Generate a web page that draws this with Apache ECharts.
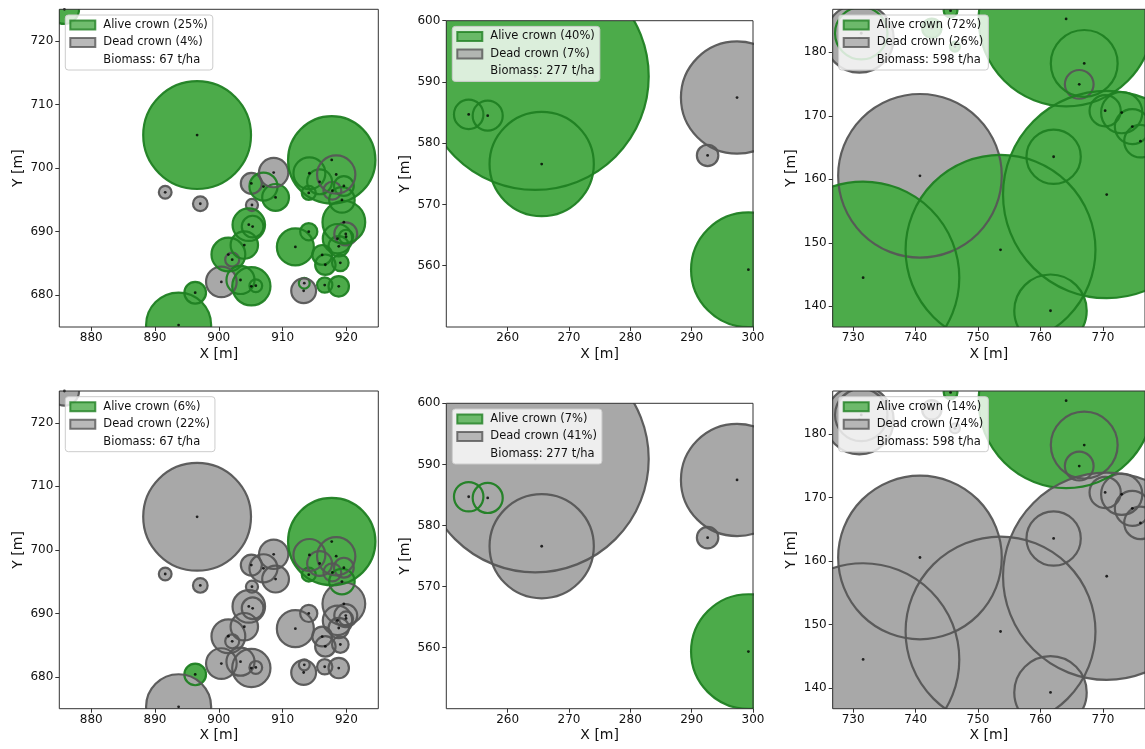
<!DOCTYPE html>
<html><head><meta charset="utf-8">
<script src="https://cdn.jsdelivr.net/npm/echarts@6/dist/echarts.min.js"></script>
<style>html,body{margin:0;padding:0;background:#fff}#c{width:1145px;height:749px}</style>
</head><body><div id="c"></div>
<script>
// ---------- Plot A (panels 1 & 4) ----------
const setA_x = [875.8, 896.6, 917.7, 893.7, 896.3, 891.6, 897.1, 905.1, 908.6, 907.0, 908.9, 905.2, 904.7, 905.3, 904.0, 901.5, 902.1, 900.4, 903.4, 905.1, 905.8, 912.0, 914.1, 916.2, 916.7, 919.05, 916.6, 918.8, 913.3, 913.4, 919.6, 918.6, 918.8, 919.9, 919.95, 919.3, 919.6, 918.4, 917.8, 914.2, 915.8, 914.1];
const setA_y = [725.0, 705.2, 701.3, 675.3, 680.4, 696.2, 694.4, 697.6, 699.3, 697.1, 695.4, 694.2, 691.1, 690.8, 687.9, 686.4, 685.6, 682.1, 682.4, 681.4, 681.5, 687.6, 690.0, 686.35, 684.8, 685.1, 681.6, 681.4, 680.7, 681.9, 691.5, 688.9, 687.7, 689.65, 689.2, 695.0, 697.2, 699.0, 696.45, 699.2, 697.85, 696.1];
const setA_r = [2.3, 8.45, 6.85, 5.1, 1.7, 1.0, 1.15, 1.65, 2.3, 2.2, 2.1, 0.95, 2.55, 1.7, 2.15, 2.65, 1.1, 2.4, 2.2, 3.0, 1.0, 2.9, 1.35, 1.55, 1.6, 1.3, 1.2, 1.6, 1.95, 0.85, 3.35, 2.3, 1.6, 1.8, 1.1, 2.0, 1.55, 3.0, 1.4, 2.5, 1.95, 1.1];
const panel1_alive = [1, 1, 1, 1, 1, 0, 0, 0, 0, 1, 1, 0, 1, 1, 1, 1, 0, 0, 1, 1, 1, 1, 1, 1, 1, 1, 1, 1, 0, 1, 1, 1, 1, 0, 1, 1, 1, 0, 0, 1, 1, 1];
const panel4_alive = [0, 0, 1, 0, 1, 0, 0, 0, 0, 0, 0, 0, 0, 0, 0, 0, 0, 0, 0, 0, 0, 0, 0, 0, 0, 0, 0, 0, 0, 0, 0, 0, 0, 0, 0, 1, 0, 0, 0, 0, 0, 1];
const setA_xrange = [875, 925];
const setA_yrange = [675, 725];
const setA_xticks = [880, 890, 900, 910, 920];
const setA_yticks = [680, 690, 700, 710, 720];

// ---------- Plot B (panels 2 & 5) ----------
const setB_x = [264.5, 253.65, 256.75, 265.55, 297.4, 292.6, 299.25];
const setB_y = [590.9, 584.7, 584.5, 576.6, 587.45, 578.0, 559.35];
const setB_r = [18.5, 2.4, 2.45, 8.5, 9.15, 1.75, 9.35];
const panel2_alive = [1, 1, 1, 1, 0, 0, 1];
const panel5_alive = [0, 1, 1, 0, 0, 0, 1];
const setB_xrange = [250, 300];
const setB_yrange = [550, 600];
const setB_xticks = [260, 270, 280, 290, 300];
const setB_yticks = [560, 570, 580, 590, 600];

// ---------- Plot C (panels 3 & 6) ----------
const setC_x = [731.6, 740.7, 753.6, 770.6, 762.1, 761.6, 764.1, 767.0, 766.2, 770.35, 773.0, 774.7, 776.0, 731.0, 731.3, 745.6, 742.6, 746.3];
const setC_y = [144.5, 160.55, 148.9, 157.6, 163.55, 139.3, 185.25, 178.25, 174.95, 170.8, 170.5, 168.3, 166.0, 182.2, 183.0, 186.55, 183.8, 180.9];
const setC_r = [15.4, 13.1, 15.2, 16.6, 4.35, 5.8, 14.0, 5.35, 2.3, 2.5, 3.3, 2.8, 2.6, 5.5, 4.2, 1.1, 1.55, 0.8];
const panel3_alive = [1, 0, 1, 1, 1, 1, 1, 1, 0, 1, 1, 1, 1, 0, 1, 1, 1, 1];
const panel6_alive = [0, 0, 0, 0, 0, 0, 1, 0, 0, 0, 0, 0, 0, 0, 0, 1, 0, 0];
const setC_xrange = [726.73, 776.73];
const setC_yrange = [136.74, 186.77];
const setC_xticks = [730, 740, 750, 760, 770];
const setC_yticks = [140, 150, 160, 170, 180];

// ---------- Legend texts ----------
const legend1 = ['Alive crown (25%)', 'Dead crown (4%)', 'Biomass: 67 t/ha'];
const legend2 = ['Alive crown (40%)', 'Dead crown (7%)', 'Biomass: 277 t/ha'];
const legend3 = ['Alive crown (72%)', 'Dead crown (26%)', 'Biomass: 598 t/ha'];
const legend4 = ['Alive crown (6%)', 'Dead crown (22%)', 'Biomass: 67 t/ha'];
const legend5 = ['Alive crown (7%)', 'Dead crown (41%)', 'Biomass: 277 t/ha'];
const legend6 = ['Alive crown (14%)', 'Dead crown (74%)', 'Biomass: 598 t/ha'];

// ---------- styles ----------
const FONT = 'DejaVu Sans';
const ALIVE_FILL = '#4cab4a';
const ALIVE_EDGE = '#1f7f22';
const DEAD_FILL = '#a8a8a8';
const DEAD_EDGE = '#565656';

const panels = [
  {x: setA_x, y: setA_y, r: setA_r, alive: panel1_alive, xr: setA_xrange, yr: setA_yrange, xt: setA_xticks, yt: setA_yticks, leg: legend1,
   grid: {left: 59.3, top: 9.3, width: 319, height: 317.7}},
  {x: setB_x, y: setB_y, r: setB_r, alive: panel2_alive, xr: setB_xrange, yr: setB_yrange, xt: setB_xticks, yt: setB_yticks, leg: legend2,
   grid: {left: 446.3, top: 20.7, width: 306.7, height: 306.3}},
  {x: setC_x, y: setC_y, r: setC_r, alive: panel3_alive, xr: setC_xrange, yr: setC_yrange, xt: setC_xticks, yt: setC_yticks, leg: legend3,
   grid: {left: 832.7, top: 9.3, width: 322.5, height: 317.7}},
  {x: setA_x, y: setA_y, r: setA_r, alive: panel4_alive, xr: setA_xrange, yr: setA_yrange, xt: setA_xticks, yt: setA_yticks, leg: legend4,
   grid: {left: 59.3, top: 391, width: 319, height: 317.7}},
  {x: setB_x, y: setB_y, r: setB_r, alive: panel5_alive, xr: setB_xrange, yr: setB_yrange, xt: setB_xticks, yt: setB_yticks, leg: legend5,
   grid: {left: 446.3, top: 403.3, width: 306.7, height: 305.4}},
  {x: setC_x, y: setC_y, r: setC_r, alive: panel6_alive, xr: setC_xrange, yr: setC_yrange, xt: setC_xticks, yt: setC_yticks, leg: legend6,
   grid: {left: 832.7, top: 391, width: 322.5, height: 317.7}},
];

const grid = [], xAxis = [], yAxis = [], series = [], legend = [];
const legendNames = new Set();

function circleItem(stroke) {
  return function (params, api) {
    const c = api.coord([api.value(0), api.value(1)]);
    const r = api.size([api.value(2), 0])[0];
    const alive = api.value(3) === 1;
    const style = stroke
      ? {fill: 'none', stroke: alive ? ALIVE_EDGE : DEAD_EDGE, lineWidth: 2.2, opacity: 0.95}
      : {fill: alive ? ALIVE_FILL : DEAD_FILL, stroke: 'none'};
    return {type: 'circle', shape: {cx: c[0], cy: c[1], r: r}, style: style, silent: true};
  };
}

panels.forEach((p, i) => {
  grid.push(Object.assign({show: true, borderColor: '#333', borderWidth: 1, backgroundColor: 'transparent', z: 8}, p.grid));
  const axisCommon = {
    type: 'value', gridIndex: i, splitLine: {show: false},
    axisLine: {show: false},
    nameLocation: 'middle',
    nameTextStyle: {fontSize: 14, color: '#111', fontFamily: FONT},
  };
  xAxis.push(Object.assign({}, axisCommon, {
    min: p.xr[0], max: p.xr[1], name: 'X [m]', nameGap: 20,
    axisTick: {show: true, length: 4, lineStyle: {color: '#333'}, customValues: p.xt},
    axisLabel: {fontSize: 12, color: '#111', fontFamily: FONT, margin: 5, customValues: p.xt},
  }));
  yAxis.push(Object.assign({}, axisCommon, {
    min: p.yr[0], max: p.yr[1], name: 'Y [m]', nameGap: 34,
    axisTick: {show: true, length: 4, lineStyle: {color: '#333'}, customValues: p.yt},
    axisLabel: {fontSize: 12, color: '#111', fontFamily: FONT, margin: 6, customValues: p.yt},
  }));
  const rows = p.x.map((v, k) => [v, p.y[k], p.r[k], p.alive[k]]);
  rows.sort((a, b) => a[2] - b[2]);
  series.push({type: 'custom', xAxisIndex: i, yAxisIndex: i, clip: true, z: 2, silent: true,
    renderItem: circleItem(false), encode: {x: 0, y: 1}, data: rows});
  series.push({type: 'custom', xAxisIndex: i, yAxisIndex: i, clip: true, z: 3, silent: true,
    renderItem: circleItem(true), encode: {x: 0, y: 1}, data: rows});
  series.push({type: 'scatter', xAxisIndex: i, yAxisIndex: i, clip: true, z: 4, silent: true,
    symbolSize: 2.8, itemStyle: {color: '#000'}, data: p.x.map((v, k) => [v, p.y[k]])});
  p.leg.forEach(n => {
    if (!legendNames.has(n)) {
      legendNames.add(n);
      series.push({type: 'scatter', name: n, xAxisIndex: i, yAxisIndex: i, data: []});
    }
  });
  legend.push({
    left: p.grid.left + 6, top: p.grid.top + 5.7, orient: 'vertical', z: 10,
    selectedMode: false, itemWidth: 25, itemHeight: 9, itemGap: 3.5,
    padding: [3, 5, 3, 4],
    backgroundColor: 'rgba(255,255,255,0.8)', borderColor: '#cccccc', borderWidth: 1, borderRadius: 3,
    textStyle: {fontSize: 11.5, color: '#111', fontFamily: FONT, lineHeight: 14, padding: [0, 0, 0, 3]},
    data: [
      {name: p.leg[0], icon: 'rect', itemStyle: {color: ALIVE_FILL, borderColor: ALIVE_EDGE, borderWidth: 2}},
      {name: p.leg[1], icon: 'rect', itemStyle: {color: DEAD_FILL, borderColor: DEAD_EDGE, borderWidth: 2}},
      {name: p.leg[2], icon: 'rect', itemStyle: {color: 'rgba(0,0,0,0)', borderColor: 'rgba(0,0,0,0)', borderWidth: 0}},
    ],
  });
});

const chart = echarts.init(document.getElementById('c'), null, {renderer: 'canvas'});
chart.setOption({animation: false, backgroundColor: '#fff', textStyle: {fontFamily: FONT}, grid, xAxis, yAxis, series, legend});
</script></body></html>
